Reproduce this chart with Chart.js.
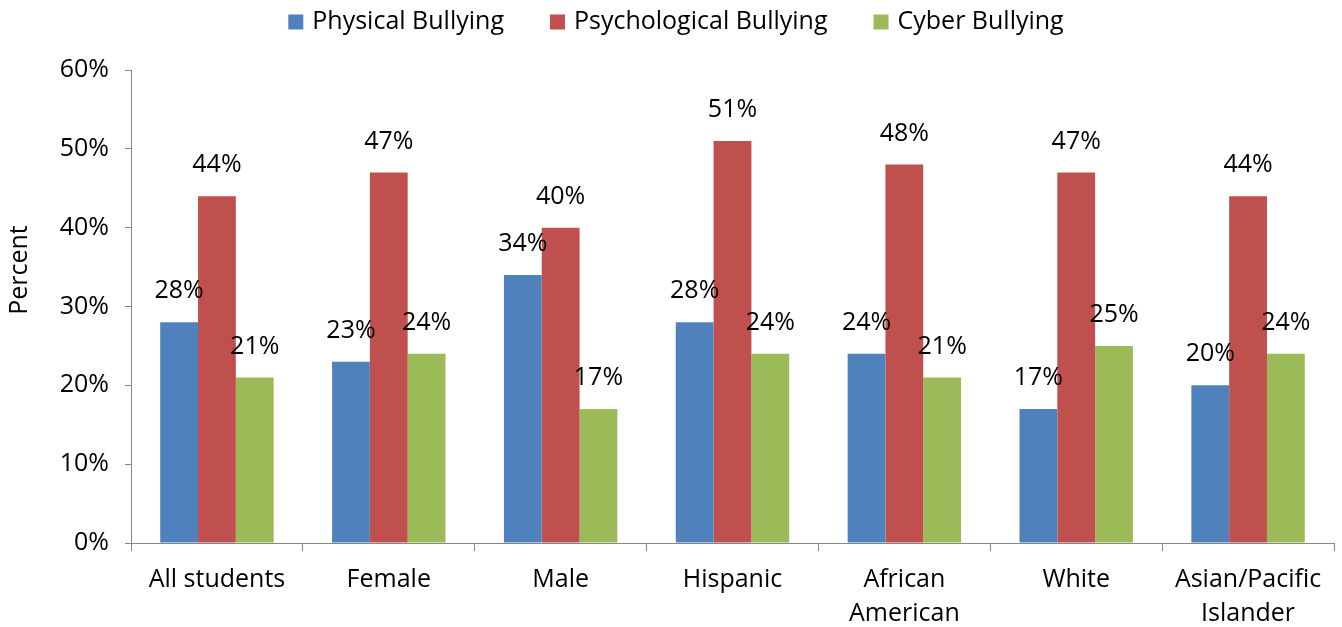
<!DOCTYPE html>
<html>
<head>
<meta charset="utf-8">
<script src="https://cdn.jsdelivr.net/npm/chart.js@4"></script>
<style>
  html, body { margin: 0; padding: 0; background: #fff; }
  #wrap { width: 1342px; height: 627px; }
</style>
</head>
<body>
<div id="wrap"><canvas id="chart"></canvas></div>
<script>
const categories = ['All students', 'Female', 'Male', 'Hispanic', ['African', 'American'], 'White', ['Asian/Pacific', 'Islander']];
const physical = [28, 23, 34, 28, 24, 17, 20];
const psychological = [44, 47, 40, 51, 48, 47, 44];
const cyber = [21, 24, 17, 24, 21, 25, 24];
const yTicks = [0, 10, 20, 30, 40, 50, 60];

const FONT = '"Open Sans", Lato, sans-serif';
const SIZE = 25;
const AXIS = '#868686';

// draws value labels, legend and the y title
const extras = {
  id: 'extras',
  afterDatasetsDraw(chart) {
    const ctx = chart.ctx;
    ctx.save();
    ctx.fillStyle = '#000';
    ctx.font = SIZE + 'px ' + FONT;
    ctx.textAlign = 'center';
    ctx.textBaseline = 'middle';
    chart.data.datasets.forEach((ds, i) => {
      chart.getDatasetMeta(i).data.forEach((bar, j) => {
        ctx.fillText(ds.data[j] + '%', bar.x, bar.y - 31);
      });
    });

    // legend
    const box = 15, gap = 9, spacing = 46;
    const items = chart.data.datasets.map(ds => ({ label: ds.label, color: ds.backgroundColor, w: ctx.measureText(ds.label).width }));
    let total = items.reduce((s, it) => s + box + gap + it.w, 0) + spacing * (items.length - 1);
    let x = 676 - total / 2;
    const y = 22;
    ctx.textAlign = 'left';
    items.forEach(it => {
      ctx.fillStyle = it.color;
      ctx.fillRect(x, y - box / 2, box, box);
      ctx.fillStyle = '#000';
      ctx.fillText(it.label, x + box + gap, y);
      x += box + gap + it.w + spacing;
    });

    // y title
    ctx.translate(20, 270);
    ctx.rotate(-Math.PI / 2);
    ctx.textAlign = 'center';
    ctx.fillText('Percent', 0, 0);
    ctx.restore();
  }
};

new Chart(document.getElementById('chart'), {
  type: 'bar',
  data: {
    labels: categories,
    datasets: [
      { label: 'Physical Bullying', data: physical, backgroundColor: '#4F81BD' },
      { label: 'Psychological Bullying', data: psychological, backgroundColor: '#C0504D' },
      { label: 'Cyber Bullying', data: cyber, backgroundColor: '#9BBB59' }
    ]
  },
  options: {
    responsive: true,
    maintainAspectRatio: false,
    animation: false,
    devicePixelRatio: 1,
    layout: { padding: { top: 70, right: 8, left: 0, bottom: 0 } },
    datasets: { bar: { categoryPercentage: 0.66, barPercentage: 1.0 } },
    plugins: { legend: { display: false }, tooltip: { enabled: false } },
    scales: {
      x: {
        afterFit: s => { s.height = 84; },
        grid: { offset: true, drawOnChartArea: false, drawTicks: true, tickLength: 8, color: AXIS, lineWidth: 1 },
        border: { color: AXIS, width: 1 },
        ticks: { color: '#000', font: { family: FONT, size: SIZE, lineHeight: 1.36 }, padding: 12, maxRotation: 0, autoSkip: false }
      },
      y: {
        min: 0,
        max: 60,
        afterFit: s => { s.width = 131; },
        afterBuildTicks: s => { s.ticks = yTicks.map(v => ({ value: v })); },
        grid: { drawOnChartArea: false, drawTicks: true, tickLength: 6, color: AXIS },
        border: { color: AXIS, width: 1 },
        ticks: { color: '#000', font: { family: FONT, size: SIZE }, padding: 16, callback: v => v + '%' }
      }
    }
  },
  plugins: [extras]
});
</script>
</body>
</html>
